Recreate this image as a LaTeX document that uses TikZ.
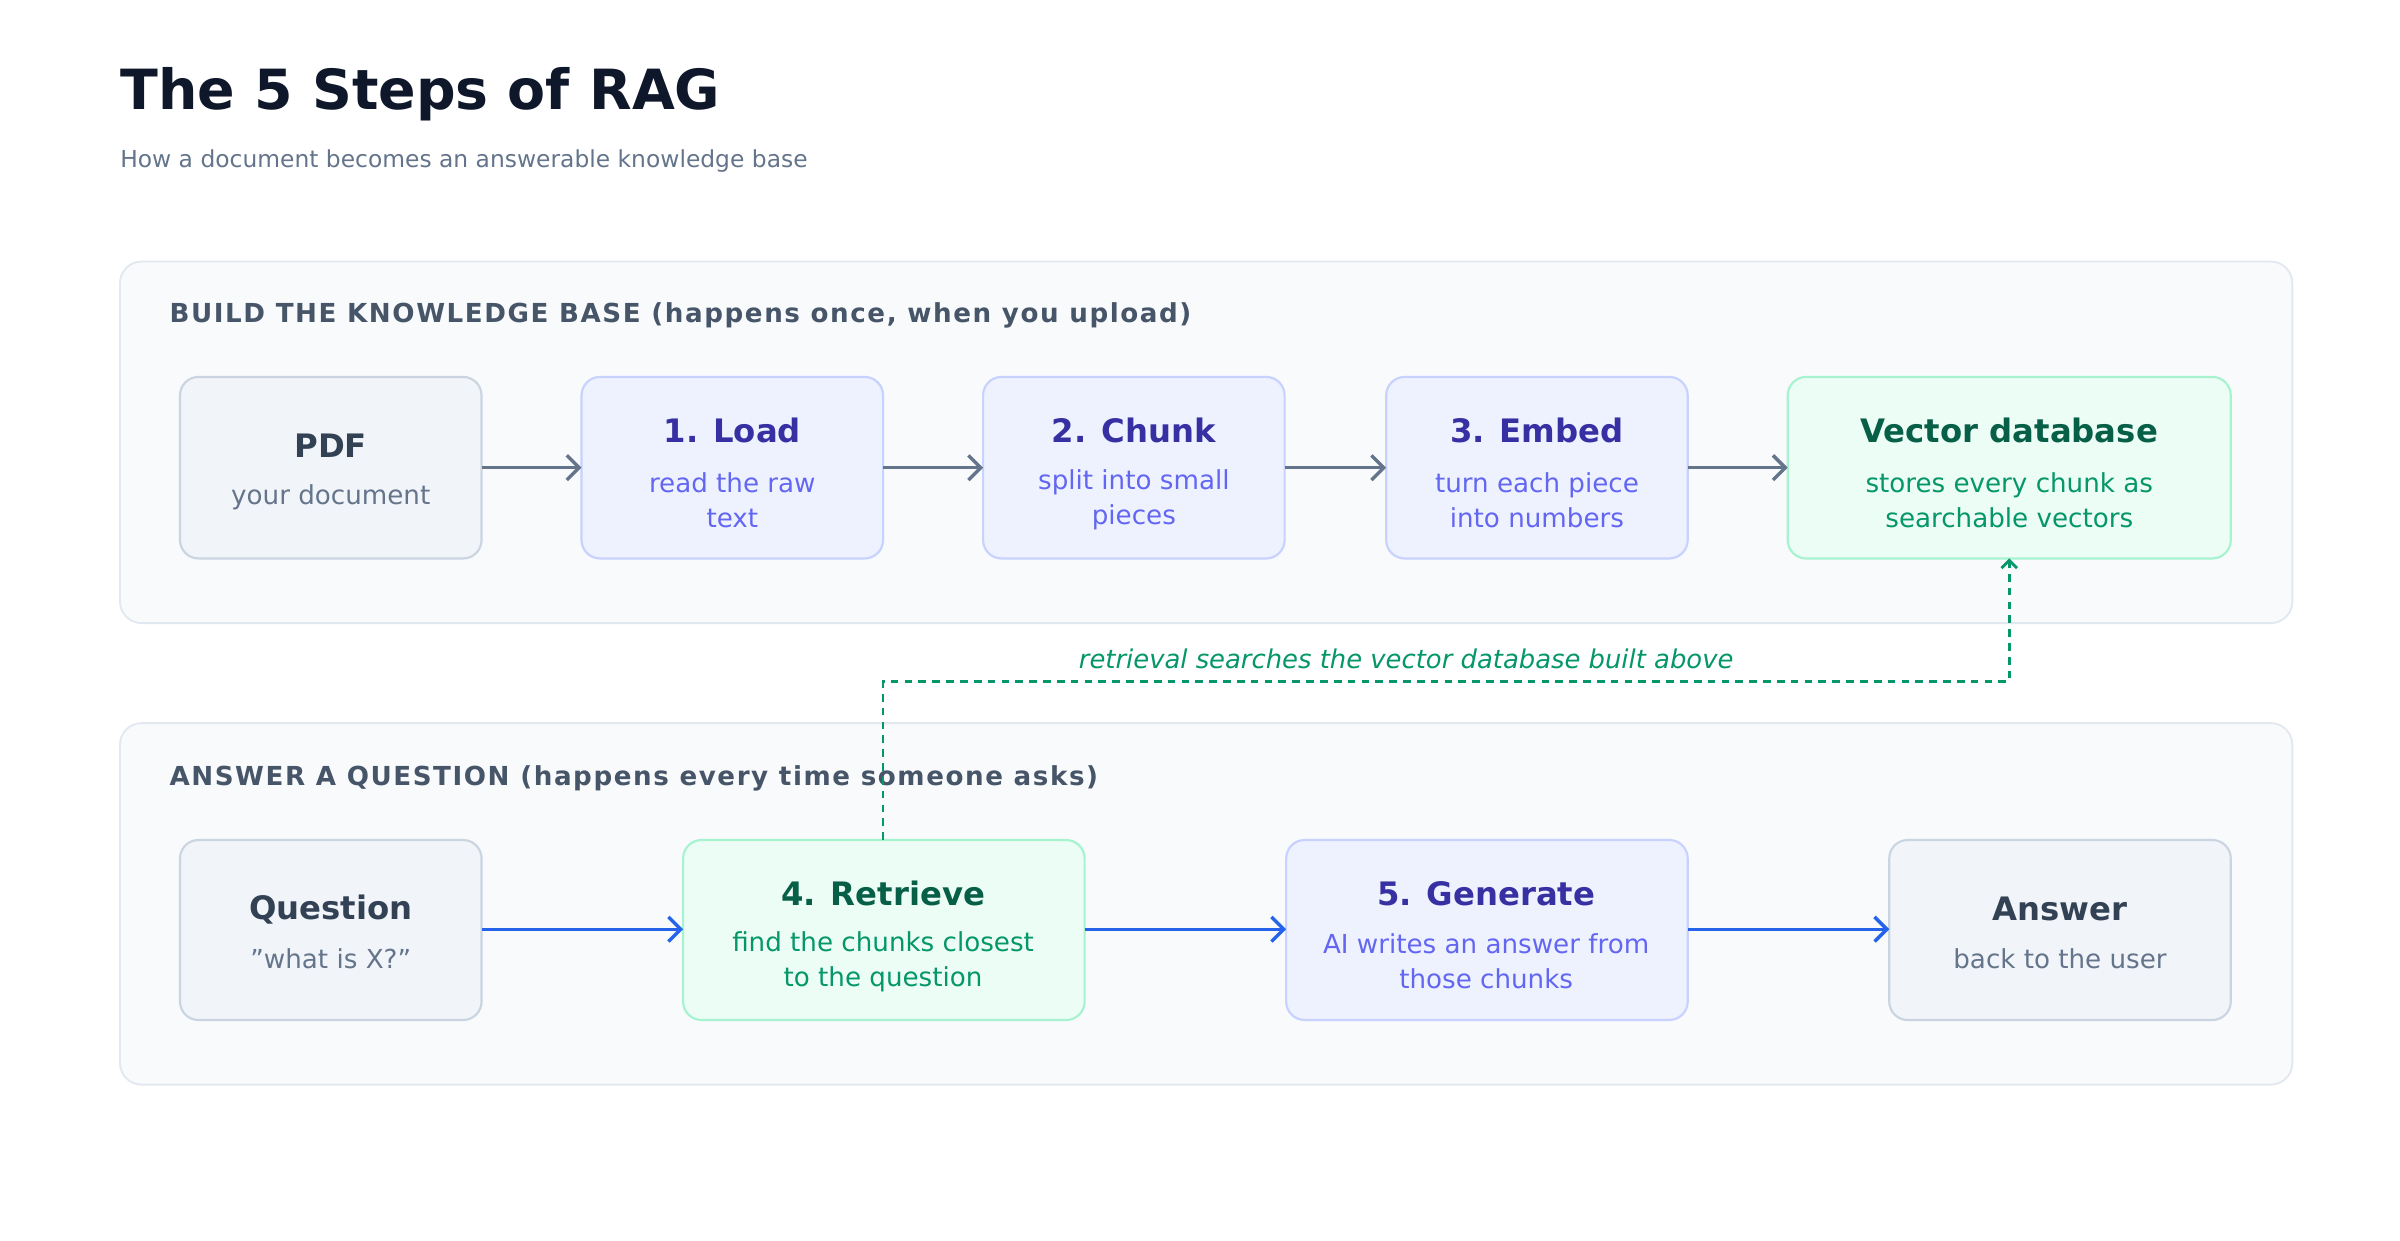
\documentclass[tikz,border=0pt]{standalone}
\usepackage{fontspec}
\setmainfont{DejaVu Sans}
\usetikzlibrary{arrows.meta}
\definecolor{grayF}{HTML}{F1F5F9}\definecolor{grayS}{HTML}{CBD5E1}
\definecolor{grayT}{HTML}{334155}\definecolor{grayU}{HTML}{64748B}
\definecolor{blueF}{HTML}{EEF2FF}\definecolor{blueS}{HTML}{C7D2FE}
\definecolor{blueT}{HTML}{3730A3}\definecolor{blueU}{HTML}{6366F1}
\definecolor{grnF}{HTML}{ECFDF5}\definecolor{grnS}{HTML}{A7F3D0}
\definecolor{grnT}{HTML}{065F46}\definecolor{grnU}{HTML}{059669}
\definecolor{panF}{HTML}{F8FAFC}\definecolor{panS}{HTML}{E2E8F0}
\definecolor{lab}{HTML}{475569}\definecolor{ttl}{HTML}{0F172A}
\definecolor{arrB}{HTML}{2563EB}
\tikzset{
 panel/.style={draw=panS,fill=panF,rounded corners=14pt,line width=1.2pt},
 box/.style={rounded corners=12pt,line width=1.4pt},
 gbox/.style={box,draw=grayS,fill=grayF},
 bbox/.style={box,draw=blueS,fill=blueF},
 nbox/.style={box,draw=grnS,fill=grnF},
 tt/.style={font=\fontsize{21}{24}\selectfont\bfseries},
 st/.style={font=\fontsize{17}{23}\selectfont,align=center},
 plab/.style={anchor=west,inner sep=0pt,font=\fontsize{17}{20}\selectfont\bfseries\addfontfeature{LetterSpace=6},text=lab},
 a1/.style={draw=grayU,line width=2.2pt,-{Straight Barb[length=8pt,width=16pt]}},
 a2/.style={draw=arrB,line width=2.2pt,-{Straight Barb[length=8pt,width=16pt]}},
}
\begin{document}
\begin{tikzpicture}[x=1pt,y=-1pt]
\useasboundingbox (0,0) rectangle (1560,806);
\node[anchor=west,inner sep=0pt,text=ttl,font=\fontsize{36}{40}\selectfont\bfseries] (title) at (78,61) {The 5 Steps of RAG};
\node[anchor=west,inner sep=0pt,text=grayU,font=\fontsize{15.2}{18}\selectfont] (sub) at (78,105) {How a document becomes an answerable knowledge base};
\draw[panel] (78,170) rectangle (1490,405);
\draw[panel] (78,470) rectangle (1490,705);
\node[plab] (l1) at (110,205) {BUILD THE KNOWLEDGE BASE (happens once, when you upload)};
\node[plab] (l2) at (110,506) {ANSWER A QUESTION (happens every time someone asks)};
% row 1
\draw[gbox] (117,245) rectangle (313,363); \coordinate (pdfL) at (117,304); \coordinate (pdfR) at (313,304);
\draw[bbox] (378,245) rectangle (574,363); \coordinate (loadL) at (378,304); \coordinate (loadR) at (574,304);
\draw[bbox] (639,245) rectangle (835,363); \coordinate (chL) at (639,304); \coordinate (chR) at (835,304);
\draw[bbox] (901,245) rectangle (1097,363); \coordinate (emL) at (901,304); \coordinate (emR) at (1097,304);
\draw[nbox] (1162,245) rectangle (1450,363); \coordinate (vdL) at (1162,304); \coordinate (vdB) at (1306,363);
\node[tt,text=grayT] (t1) at (215,290) {PDF};
\node[st,text=grayU] (s1) at (215,323) {your document};
\node[tt,text=blueT] (t2) at (476,280) {1. Load};
\node[st,text=blueU] (s2) at (476,325) {read the raw\\text};
\node[tt,text=blueT] (t3) at (737,280) {2. Chunk};
\node[st,text=blueU] (s3) at (737,325) {split into small\\pieces};
\node[tt,text=blueT] (t4) at (999,280) {3. Embed};
\node[st,text=blueU] (s4) at (999,325) {turn each piece\\into numbers};
\node[tt,text=grnT] (t5) at (1306,280) {Vector database};
\node[st,text=grnU] (s5) at (1306,325) {stores every chunk as\\searchable vectors};
\draw[a1] (pdfR) -- (loadL);
\draw[a1] (loadR) -- (chL);
\draw[a1] (chR) -- (emL);
\draw[a1] (emR) -- (vdL);
% row 2
\draw[gbox] (117,546) rectangle (313,663); \coordinate (qR) at (313,604);
\draw[nbox] (444,546) rectangle (705,663); \coordinate (rL) at (444,604); \coordinate (rR) at (705,604); \coordinate (rT) at (574,546);
\draw[bbox] (836,546) rectangle (1097,663); \coordinate (gL) at (836,604); \coordinate (gR) at (1097,604);
\draw[gbox] (1228,546) rectangle (1450,663); \coordinate (aL) at (1228,604);
\node[tt,text=grayT] (t6) at (215,591) {Question};
\node[st,text=grayU] (s6) at (215,623) {\symbol{34}what is X?\symbol{34}};
\node[tt,text=grnT] (t7) at (574,581) {4. Retrieve};
\node[st,text=grnU] (s7) at (574,625) {find the chunks closest\\to the question};
\node[tt,text=blueT] (t8) at (966,581) {5. Generate};
\node[st,text=blueU] (s8) at (966,625) {AI writes an answer from\\those chunks};
\node[tt,text=grayT] (t9) at (1339,591) {Answer};
\node[st,text=grayU] (s9) at (1339,623) {back to the user};
\draw[a2] (qR) -- (rL);
\draw[a2] (rR) -- (gL);
\draw[a2] (gR) -- (aL);
% dashed retrieval link
\draw[grnU,line width=1.8pt,dash pattern=on 5pt off 4pt,-{Straight Barb[length=5pt,width=10pt]}]
  (rT) -- (574,443) -- (1306,443) -- (vdB);
\node[text=grnU,font=\fontsize{16.8}{19}\selectfont\itshape] (dl) at (914,428) {retrieval searches the vector database built above};
\end{tikzpicture}
\end{document}
